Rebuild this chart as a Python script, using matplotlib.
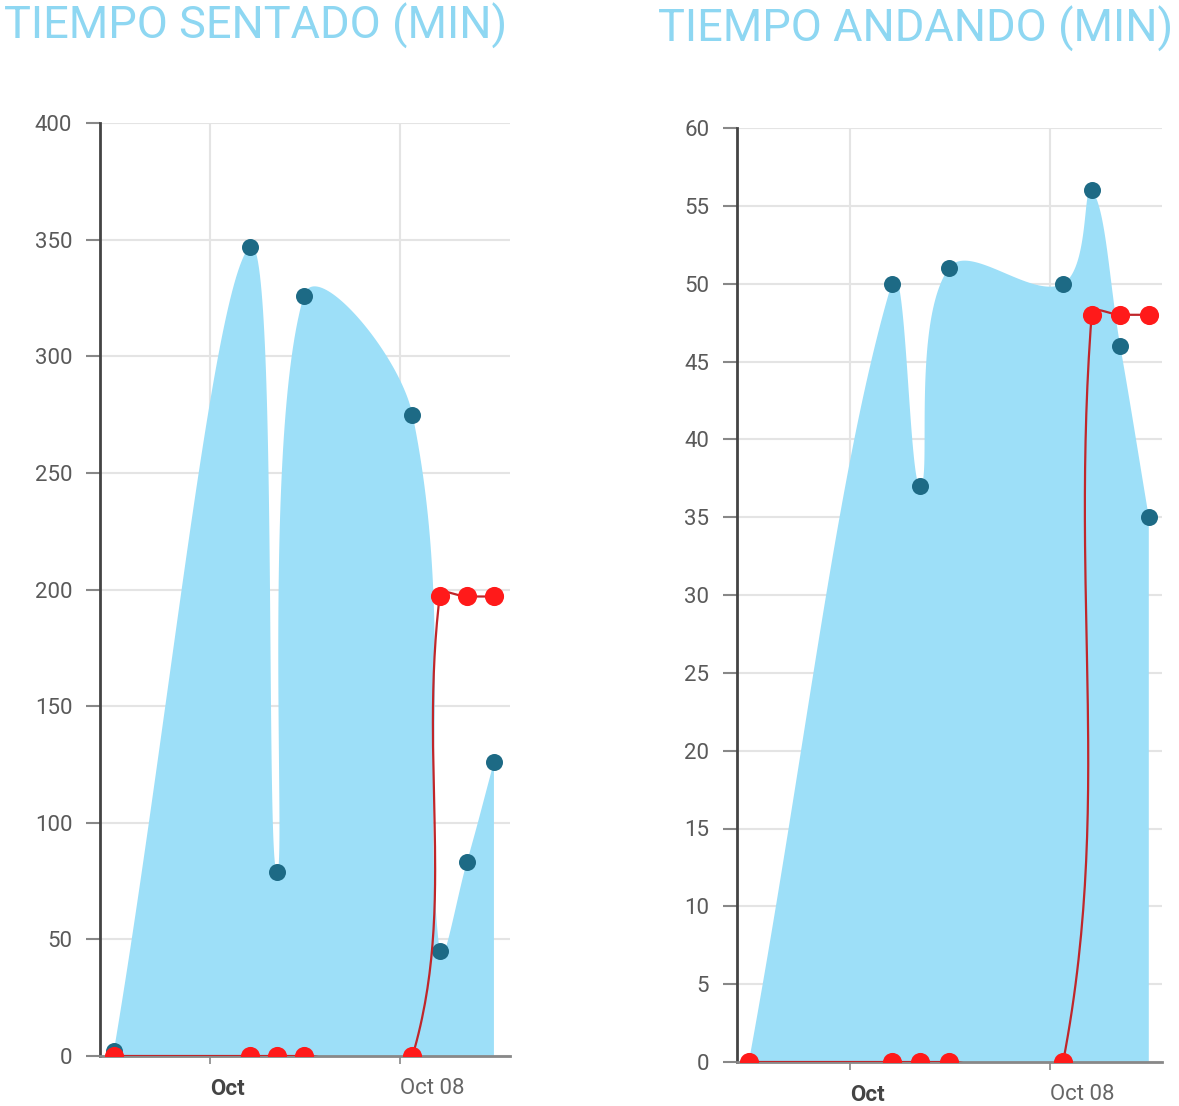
import numpy as np
import matplotlib
matplotlib.use("Agg")
import matplotlib.pyplot as plt
import matplotlib.dates as mdates
import matplotlib.transforms as mtransforms
from datetime import datetime

# ---------------- data ----------------
dates = [datetime(2020, 9, 27, 11), datetime(2020, 10, 2, 11), datetime(2020, 10, 3, 11),
         datetime(2020, 10, 4, 11), datetime(2020, 10, 8, 11), datetime(2020, 10, 9, 11),
         datetime(2020, 10, 10, 11), datetime(2020, 10, 11, 11)]

sentado_blue = [2, 347, 79, 326, 275, 45, 83, 126]
sentado_red = [0, 0, 0, 0, 0, 197, 197, 197]

andando_blue = [0, 50, 37, 51, 50, 56, 46, 35]
andando_red = [0, 0, 0, 0, 0, 48, 48, 48]

titles = ["TIEMPO SENTADO (MIN)", "TIEMPO ANDANDO (MIN)"]
yticks_left = list(range(0, 401, 50))
yticks_right = list(range(0, 61, 5))
xtick_dates = [datetime(2020, 10, 1), datetime(2020, 10, 8)]
xtick_labels = ["Oct", "Oct 08"]

# ---------------- style ----------------
FILL = "#9ddff8"
MARK = "#1d6a85"
RED = "#ff1a1a"
REDLINE = "#c0262a"
TITLE_C = "#8ed7f2"
GRID = "#e4e4e4"
FONT = "Roboto"

W, H = 1179, 1106
fig = plt.figure(figsize=(W / 100, H / 100), dpi=100)
fig.patch.set_facecolor("white")


def spline(ax, xs, ys, tension=0.4, n=60):
    xn = mdates.date2num(xs)
    pts = ax.transData.transform(np.column_stack([xn, ys]))
    N = len(pts)
    cpp = pts.copy()
    cpn = pts.copy()
    for i in range(N):
        p = pts[i]
        prev = pts[i - 1] if i > 0 else p
        nxt = pts[i + 1] if i < N - 1 else p
        d01 = np.hypot(*(p - prev))
        d12 = np.hypot(*(nxt - p))
        tot = d01 + d12
        s01 = d01 / tot if tot > 0 else 0
        s12 = d12 / tot if tot > 0 else 0
        cpp[i] = p - tension * s01 * (nxt - prev)
        cpn[i] = p + tension * s12 * (nxt - prev)
    out = []
    t = np.linspace(0, 1, n)[:, None]
    for i in range(N - 1):
        P0, P1, P2, P3 = pts[i], cpn[i], cpp[i + 1], pts[i + 1]
        seg = ((1 - t) ** 3) * P0 + 3 * ((1 - t) ** 2) * t * P1 + 3 * (1 - t) * t ** 2 * P2 + t ** 3 * P3
        out.append(seg if i == 0 else seg[1:])
    out = np.vstack(out)
    data = ax.transData.inverted().transform(out)
    return data[:, 0], data[:, 1]


def make_panel(rect, xlim, ylim, yticks, blue, red, title, title_x, title_y):
    ax = fig.add_axes(rect)
    ax.set_xlim(mdates.date2num(xlim[0]), mdates.date2num(xlim[1]))
    ax.set_ylim(*ylim)
    ax.set_yticks(yticks)
    ax.set_yticklabels([str(v) for v in yticks], fontsize=16, color="#5a5a5a", family=FONT)
    ax.set_xticks(mdates.date2num(xtick_dates))
    ax.set_xticklabels(xtick_labels, fontsize=16, family=FONT)
    labs = ax.get_xticklabels()
    offset = mtransforms.ScaledTranslation(5 / 100, 0, fig.dpi_scale_trans)
    for lab in labs:
        lab.set_horizontalalignment("left")
        lab.set_transform(lab.get_transform() + offset)
    labs[0].set_fontweight("bold")
    labs[0].set_color("#444444")
    labs[1].set_color("#666666")
    for s in ["top", "right"]:
        ax.spines[s].set_visible(False)
    ax.spines["left"].set_color("#444444")
    ax.spines["left"].set_linewidth(2)
    ax.spines["bottom"].set_color("#888888")
    ax.spines["bottom"].set_linewidth(2)
    ax.tick_params(axis="y", length=10, width=1.5, color="#888888", pad=10)
    ax.tick_params(axis="x", length=6, width=1.2, color="#888888", pad=10)
    ax.grid(True, color=GRID, linewidth=1.5)
    ax.set_axisbelow(True)

    # blue area
    bx, by = spline(ax, dates, blue)
    ax.fill(np.r_[bx, bx[-1], bx[0]], np.r_[by, 0, 0], color=FILL, lw=0, zorder=2)
    ax.scatter(mdates.date2num(dates), blue, s=150, color=MARK, zorder=4, lw=0)
    # red line
    rx, ry = spline(ax, dates, red)
    ax.plot(rx, ry, color=REDLINE, lw=1.6, zorder=5, solid_capstyle="round")
    ax.scatter(mdates.date2num(dates), red, s=190, color=RED, zorder=6, lw=0)
    fig.text(title_x, title_y, title, fontsize=32.5, color=TITLE_C, family=FONT,
             ha="center", va="center")
    return ax


# left panel: spine x=100..510, y 0 at 1056, 400 at 123
make_panel([100 / W, (H - 1056) / H, 410 / W, 933 / H],
           (datetime(2020, 9, 26, 22, 48), datetime(2020, 10, 12, 1, 12)),
           (0, 400), yticks_left, sentado_blue, sentado_red,
           titles[0], 256 / W, 1 - 26 / H)

# right panel: spine x=737..1162, y 0 at 1062, 60 at 128
make_panel([737 / W, (H - 1062) / H, 425 / W, 934 / H],
           (datetime(2020, 9, 27, 1, 5), datetime(2020, 10, 11, 22, 5)),
           (0, 60), yticks_right, andando_blue, andando_red,
           titles[1], 916 / W, 1 - 29 / H)

fig.savefig("out.png", dpi=100)
